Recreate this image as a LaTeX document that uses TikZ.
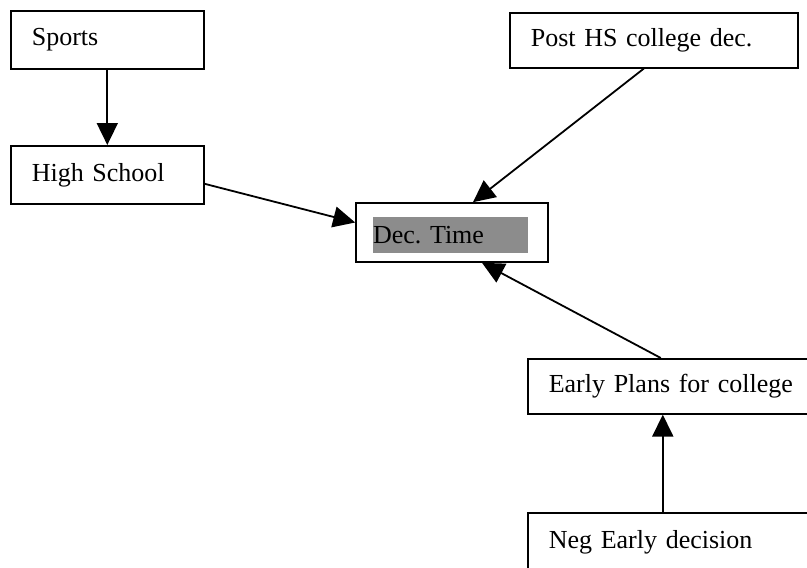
\documentclass[tikz,border=0pt]{standalone}
\usepackage{fontspec}
\setmainfont{Liberation Serif}
\frenchspacing
\usetikzlibrary{arrows.meta,positioning}
\begin{document}
\begin{tikzpicture}[x=1pt, y=-1pt,
    factor/.style={rectangle, draw, line width=1.6pt, anchor=north west, inner xsep=21pt, align=left, font=\fontsize{26}{30}\selectfont},
    arrow/.style={-{Triangle[length=22pt, width=21pt]}, line width=1.8pt}
]
\useasboundingbox (0,0) rectangle (807,568);
\node[factor, text width=151pt, minimum height=58pt] (sports) at (10,10) {Sports};
\node[factor, text width=151pt, minimum height=58pt] (hs) at (10,145) {High School};
\node[factor, text width=246pt, minimum height=55pt] (post) at (509,12) {Post HS college dec.};
\node[factor, text width=248pt, minimum height=55pt] (early) at (527,358) {Early Plans for college};
\node[factor, text width=248pt, minimum height=58pt] (neg) at (527,512) {Neg Early decision};

\node[rectangle, fill=black!45, text width=155pt, minimum height=36pt, inner sep=0pt, align=left, font=\fontsize{26}{30}\selectfont] (dectext) at (450.5,235) {Dec. Time};
\node[rectangle, draw, line width=1.6pt, minimum width=192pt, minimum height=59pt] (dec) at (452,232.5) {};

\draw[arrow] (sports) -- (hs);
\draw[arrow] ([yshift=-9pt]hs.east) -- ([yshift=10pt]dec.west);
\draw[arrow] ([xshift=-10pt]post.south) -- ([xshift=21pt]dec.north);
\draw[arrow] ([xshift=-12pt]early.north) -- ([xshift=30pt]dec.south);
\draw[arrow] ([xshift=-10pt]neg.north) -- ([xshift=-10pt]early.south);
\end{tikzpicture}
\end{document}
